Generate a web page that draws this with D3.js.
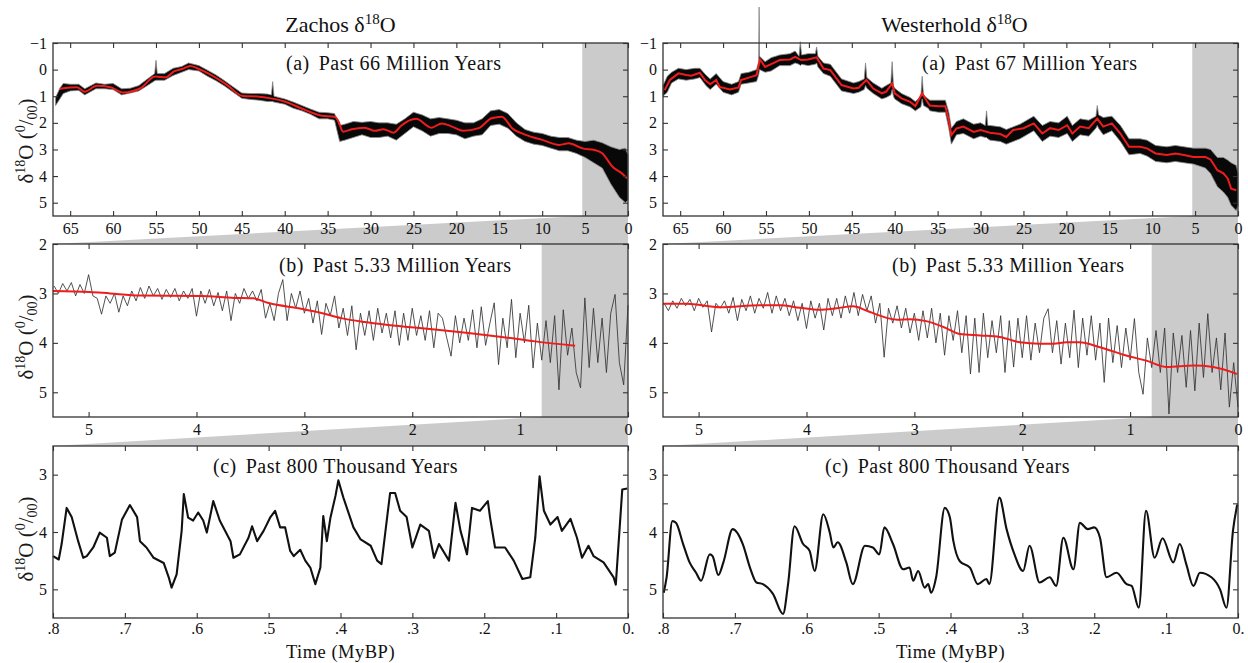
<!DOCTYPE html>
<html>
<head>
<meta charset="utf-8">
<script src="https://cdn.jsdelivr.net/npm/d3@7"></script>
<style>
body { margin: 0; background: #fff; }
svg text { font-family: "Liberation Serif", "Times New Roman", serif !important; }
</style>
</head>
<body>
<svg id="chart" width="1248" height="663"></svg>
<script>
// ---- data ----
// (a) panels: smoothed (red) curves, [age Ma, d18O]
var zachosRedA = [[66.2,0.72],[65.8,0.7],[64.2,0.66],[63.3,0.83],[61.9,0.61],[60.3,0.66],[58.8,0.86],[56.8,0.7],[55.1,0.26],[53.9,0.29],[52.9,0.07],[51.9,-0.03],[51.0,-0.14],[50.2,-0.05],[48.6,0.2],[46.7,0.58],[44.9,0.99],[43.2,1.01],[41.6,1.08],[40.0,1.2],[38.1,1.45],[35.7,1.73],[34.2,1.77],[33.8,1.9],[33.2,2.33],[32.2,2.24],[30.7,2.18],[29.5,2.3],[28.5,2.24],[27.3,2.37],[26.4,2.1],[24.7,1.85],[22.9,2.18],[21.7,2.02],[20.5,2.14],[19.2,2.3],[17.4,2.2],[15.9,1.83],[14.7,1.77],[13.5,2.2],[11.9,2.45],[10.0,2.64],[8.0,2.83],[6.9,2.77],[5.3,2.96],[3.9,3.02],[3.0,3.14],[1.8,3.65],[0.7,3.9],[0.1,4.08]];

var westerholdRedA = [[66.8,0.77],[66.2,0.39],[65.2,0.14],[64.3,0.2],[63.7,0.23],[62.7,0.12],[62.1,0.39],[61.5,0.55],[60.8,0.39],[60.4,0.65],[59.2,0.75],[58.2,0.67],[57.9,0.39],[56.9,0.29],[56.1,0.21],[55.7,-0.38],[55.1,-0.1],[54.4,-0.21],[53.4,-0.36],[52.2,-0.38],[51.6,-0.48],[50.9,-0.36],[50.1,-0.38],[49.1,-0.46],[48.3,-0.04],[47.5,0.02],[46.2,0.58],[44.8,0.71],[44.2,0.68],[43.3,0.39],[42.5,0.71],[41.5,0.89],[41.0,0.83],[40.3,0.52],[40.0,0.89],[39.2,1.08],[38.2,1.21],[37.6,1.37],[36.8,0.89],[36.1,1.26],[35.9,1.35],[34.9,1.38],[34.1,1.38],[33.7,1.9],[33.4,2.46],[32.8,2.21],[32.0,2.14],[30.8,2.34],[30.0,2.27],[28.9,2.37],[27.7,2.42],[27.0,2.53],[26.2,2.27],[25.0,2.2],[23.8,2.02],[22.8,2.4],[21.9,2.2],[20.9,2.27],[19.9,2.09],[19.3,2.4],[18.4,2.14],[17.4,2.2],[16.4,1.84],[15.7,2.14],[14.7,2.02],[13.7,2.4],[12.7,2.9],[11.4,2.9],[10.6,2.96],[9.6,3.15],[8.3,3.21],[7.3,3.15],[6.3,3.21],[5.2,3.28],[3.8,3.28],[3.2,3.38],[2.4,3.78],[1.7,3.9],[1.2,4.09],[0.8,4.47],[0.2,4.53]];

// (a) panels: spread of the raw record, [age Ma, min d18O, max d18O]
var zachosBandA = [[66.7,1.05,1.35],[66.2,0.7,1.1],[65.8,0.52,0.9],[65,0.55,0.8],[64,0.55,0.78],[63.3,0.72,0.95],[62,0.5,0.72],[61,0.55,0.72],[60,0.52,0.75],[59,0.72,0.95],[58,0.7,0.88],[57,0.6,0.8],[56,0.35,0.6],[55.15,0.15,0.42],[55.0,-0.35,0.4],[54.85,0.15,0.4],[54,0.15,0.4],[53,-0.05,0.22],[52,-0.12,0.1],[51.2,-0.25,0.0],[50,-0.15,0.05],[49,0.02,0.25],[48,0.2,0.42],[47,0.42,0.62],[46,0.65,0.85],[45,0.88,1.08],[44,0.9,1.12],[43,0.9,1.15],[42,0.92,1.2],[41.55,0.95,1.2],[41.4,0.45,1.2],[41.25,1.0,1.22],[40,1.1,1.3],[39,1.22,1.45],[38,1.35,1.55],[37,1.48,1.68],[36,1.6,1.85],[35,1.62,1.85],[34.2,1.65,1.9],[33.6,2.1,2.7],[33,2.05,2.65],[32,1.95,2.55],[31,1.98,2.45],[30,1.95,2.55],[29,2.0,2.55],[28,2.0,2.5],[27,2.05,2.65],[26,1.85,2.4],[25,1.6,2.15],[24,1.7,2.3],[23,1.85,2.5],[22,1.8,2.4],[21,1.85,2.4],[20,1.9,2.45],[19,2.0,2.6],[18,2.0,2.5],[17,1.85,2.45],[16,1.55,2.1],[15,1.5,2.05],[14,1.65,2.2],[13,2.0,2.5],[12,2.25,2.7],[11,2.35,2.8],[10,2.4,2.85],[9,2.5,2.95],[8,2.55,3.05],[7,2.55,3.05],[6,2.65,3.15],[5,2.7,3.3],[4,2.65,3.5],[3,2.75,3.7],[2,2.9,4.3],[1,3.0,4.8],[0.3,2.95,5.0],[0,3.2,4.9]];

var westerholdBandA = [[67,0.6,1.0],[66.5,0.25,0.85],[66,0.1,0.5],[65.2,-0.05,0.35],[64.3,0.0,0.4],[63.3,-0.05,0.35],[62.7,-0.05,0.3],[62,0.2,0.6],[61.5,0.35,0.75],[60.8,0.15,0.55],[60,0.45,0.85],[59,0.55,0.95],[58.2,0.45,0.85],[57.9,0.15,0.55],[57,0.1,0.5],[56.1,0.0,0.45],[55.85,-0.3,0.2],[55.8,-2.35,0.1],[55.75,-0.5,0.0],[55.1,-0.3,0.1],[54.4,-0.45,0.05],[53.4,-0.55,-0.15],[52.2,-0.6,-0.15],[51.6,-0.7,-0.25],[51.15,-0.5,-0.2],[51.0,-1.05,-0.15],[50.85,-0.55,-0.2],[50.1,-0.6,-0.15],[49.25,-0.6,-0.2],[49.1,-0.85,-0.25],[48.95,-0.5,-0.1],[48.3,-0.25,0.15],[47.5,-0.2,0.25],[46.2,0.35,0.8],[44.8,0.5,0.9],[44.2,0.45,0.85],[43.55,0.35,0.75],[43.4,-0.25,0.6],[43.25,0.3,0.7],[42.5,0.5,0.9],[41.5,0.7,1.1],[41.0,0.6,1.05],[40.45,0.5,0.95],[40.3,-0.3,0.75],[40.15,0.6,1.0],[40.0,0.7,1.1],[39.2,0.9,1.28],[38.2,1.05,1.4],[37.6,1.2,1.55],[36.95,1.0,1.4],[36.8,0.25,1.1],[36.65,0.95,1.35],[36.1,1.1,1.45],[35.9,1.15,1.55],[34.9,1.15,1.6],[34.1,1.15,1.6],[33.7,1.6,2.2],[33.4,2.2,2.8],[32.8,1.95,2.45],[32.0,1.85,2.4],[30.8,2.05,2.6],[30.0,2.0,2.5],[29.45,2.1,2.55],[29.3,1.55,2.55],[29.15,2.1,2.6],[28.9,2.1,2.65],[27.7,2.15,2.7],[27.0,2.25,2.8],[25.4,2.05,2.6],[23.8,1.75,2.3],[22.8,2.1,2.7],[21.9,1.95,2.5],[20.9,2.0,2.55],[19.9,1.75,2.4],[19.3,2.1,2.7],[18.4,1.85,2.45],[17.4,1.9,2.5],[16.55,1.75,2.2],[16.4,1.35,2.1],[16.25,1.7,2.2],[15.7,1.8,2.45],[14.7,1.75,2.3],[13.7,2.1,2.7],[12.7,2.6,3.2],[11.4,2.6,3.15],[10.6,2.65,3.25],[9.6,2.85,3.45],[8.3,2.9,3.5],[7.3,2.85,3.45],[6.3,2.9,3.5],[5.2,2.95,3.55],[3.8,2.95,3.7],[3.2,3.0,3.9],[2.4,3.3,4.4],[1.7,3.3,4.6],[1.2,3.4,4.8],[0.8,3.5,5.1],[0.2,3.6,5.3],[0,3.9,5.1]];

// (b) panels: raw record sampled every 0.04 Ma from 5.32 Ma to 0
var stepB = 0.04;
var zachosB = [
  2.85,3.0,2.8,2.95,2.78,3.05,2.82,3.0,2.62,3.05,
  3.1,3.42,3.05,3.2,3.0,3.38,3.05,3.25,2.95,3.15,
  2.88,3.1,2.85,3.05,2.9,3.12,2.92,3.08,2.9,3.15,
  2.95,3.1,2.9,3.46,2.95,3.2,2.92,3.25,2.98,3.35,
  2.95,3.55,3.0,3.2,2.9,3.1,2.95,3.15,2.92,3.5,
  3.2,3.55,3.0,2.72,3.55,3.0,3.3,2.95,3.4,3.1,
  3.6,3.15,3.83,3.2,3.45,3.05,3.7,3.3,3.85,3.25,
  4.14,3.4,3.85,3.35,3.95,3.3,3.8,3.4,3.9,3.35,
  4.05,3.4,3.95,3.3,3.85,3.45,3.95,3.35,4.1,3.4,
  3.5,3.9,4.27,3.45,4.0,3.5,3.95,3.33,4.1,3.27,
  4.05,3.6,3.19,4.44,3.5,4.1,3.12,4.3,3.4,4.0,
  3.24,4.51,3.6,4.35,3.55,4.4,3.45,4.95,3.33,4.25,
  3.7,4.6,4.91,3.09,4.5,3.3,4.4,3.5,4.6,3.4,
  3.02,4.4,4.85,3.24];
var westerholdB = [
  3.2,3.35,3.15,3.3,3.1,3.25,3.12,3.35,3.1,3.28,
  3.15,3.78,3.2,3.3,3.15,3.4,3.08,3.55,3.12,3.35,
  3.05,3.4,3.1,3.3,2.98,3.4,3.05,3.35,3.1,3.45,
  3.15,3.55,3.2,3.71,3.15,3.5,3.2,3.74,3.1,3.45,
  3.1,3.5,3.05,3.4,2.98,3.45,3.02,3.35,3.05,3.6,
  3.2,4.29,3.3,3.6,3.25,3.7,3.3,3.8,3.4,3.95,
  3.35,3.9,3.3,4.0,3.4,4.25,3.45,3.95,3.35,4.2,
  3.45,4.63,3.5,4.6,3.4,4.3,3.55,4.2,3.45,4.6,
  3.55,4.49,3.5,4.3,3.45,4.35,3.6,4.2,3.5,3.31,
  4.2,3.55,4.43,3.6,4.3,3.34,4.5,3.5,4.25,3.45,
  4.35,3.6,4.8,3.5,4.4,3.65,4.5,3.7,4.35,3.51,
  4.6,5.04,3.9,4.5,3.75,4.6,3.7,5.44,3.8,4.6,
  3.85,4.9,3.75,4.97,3.6,4.7,3.41,4.6,3.9,4.95,
  3.8,5.3,4.4,5.3];

// (b) panels: smoothed curves
var zachosRedB = [[5.33,2.95],[4.99,2.97],[4.8,3.0],[4.52,3.04],[3.96,3.05],[3.65,3.09],[3.47,3.1],[3.34,3.19],[3.03,3.31],[2.85,3.39],[2.66,3.5],[2.44,3.58],[2.26,3.63],[1.98,3.69],[1.79,3.73],[1.48,3.8],[1.17,3.88],[0.86,3.97],[0.49,4.06]];
var westerholdRedB = [[5.33,3.21],[5.11,3.21],[4.8,3.28],[4.43,3.24],[4.25,3.24],[4.06,3.29],[3.88,3.33],[3.72,3.3],[3.57,3.26],[3.44,3.35],[3.32,3.45],[3.16,3.53],[3.04,3.52],[2.89,3.56],[2.73,3.68],[2.58,3.82],[2.39,3.85],[2.21,3.88],[2.02,3.99],[1.84,4.02],[1.71,4.02],[1.59,3.99],[1.47,3.99],[1.28,4.09],[1.03,4.26],[0.85,4.36],[0.66,4.49],[0.41,4.46],[0.23,4.49],[0.01,4.63]];

// (c) panels: last 800 kyr, [age Ma, d18O]
var zachosC = [[0.8,4.42],[0.792,4.48],[0.788,4.21],[0.781,3.58],[0.774,3.74],[0.765,4.16],[0.758,4.45],[0.753,4.42],[0.744,4.27],[0.735,4.01],[0.725,4.1],[0.721,4.42],[0.714,4.36],[0.704,3.78],[0.693,3.53],[0.683,3.74],[0.679,4.16],[0.67,4.27],[0.66,4.45],[0.646,4.54],[0.639,4.79],[0.635,4.97],[0.628,4.74],[0.621,3.98],[0.618,3.34],[0.612,3.75],[0.605,3.8],[0.598,3.66],[0.591,3.8],[0.586,4.01],[0.577,3.46],[0.568,3.8],[0.553,4.16],[0.549,4.45],[0.54,4.39],[0.528,4.1],[0.523,3.9],[0.516,4.16],[0.507,3.98],[0.498,3.75],[0.491,3.63],[0.484,3.92],[0.477,3.92],[0.47,4.33],[0.465,4.42],[0.456,4.31],[0.449,4.5],[0.442,4.62],[0.435,4.91],[0.428,4.62],[0.424,3.72],[0.419,4.16],[0.414,3.75],[0.407,3.37],[0.403,3.1],[0.396,3.4],[0.382,3.92],[0.372,4.13],[0.358,4.24],[0.349,4.5],[0.343,4.56],[0.338,4.04],[0.331,3.32],[0.324,3.32],[0.317,3.63],[0.308,3.74],[0.3,4.27],[0.289,3.87],[0.277,3.98],[0.27,4.45],[0.263,4.21],[0.249,4.5],[0.24,3.49],[0.233,3.98],[0.224,4.39],[0.217,3.58],[0.206,3.63],[0.195,3.46],[0.192,3.74],[0.185,4.27],[0.171,4.27],[0.159,4.5],[0.147,4.82],[0.136,4.79],[0.129,4.1],[0.123,3.03],[0.117,3.63],[0.108,3.87],[0.098,3.74],[0.092,3.98],[0.08,3.77],[0.071,4.1],[0.064,4.45],[0.055,4.24],[0.048,4.42],[0.034,4.53],[0.02,4.79],[0.017,4.92],[0.008,3.26],[0.001,3.24]];
var westerholdC = [[0.799,5.06],[0.795,4.79],[0.787,3.81],[0.782,3.84],[0.772,4.21],[0.763,4.53],[0.754,4.71],[0.747,4.85],[0.735,4.39],[0.731,4.42],[0.723,4.75],[0.716,4.53],[0.703,3.95],[0.689,4.21],[0.679,4.62],[0.67,4.88],[0.661,4.91],[0.647,5.08],[0.633,5.43],[0.626,4.91],[0.617,3.9],[0.605,4.21],[0.596,4.33],[0.589,4.68],[0.577,3.69],[0.568,4.01],[0.563,4.27],[0.557,4.18],[0.545,4.53],[0.536,4.91],[0.519,4.24],[0.508,4.27],[0.499,4.39],[0.492,3.92],[0.48,4.21],[0.466,4.65],[0.457,4.62],[0.452,4.85],[0.445,4.68],[0.436,4.97],[0.431,4.91],[0.427,5.06],[0.42,4.79],[0.408,3.58],[0.401,3.74],[0.396,4.16],[0.387,4.51],[0.373,4.62],[0.362,4.91],[0.35,4.82],[0.346,4.91],[0.332,3.4],[0.322,3.95],[0.311,4.39],[0.299,4.68],[0.29,4.24],[0.276,4.88],[0.262,4.79],[0.253,4.94],[0.243,4.1],[0.229,4.65],[0.22,3.84],[0.209,3.95],[0.2,3.92],[0.192,4.1],[0.183,4.79],[0.169,4.71],[0.155,4.91],[0.148,4.94],[0.138,5.32],[0.128,3.63],[0.116,4.45],[0.105,4.11],[0.09,4.53],[0.081,4.21],[0.072,4.56],[0.062,4.94],[0.053,4.71],[0.037,4.79],[0.025,5.0],[0.016,5.32],[0.007,3.98],[0.001,3.52]];

// axis ticks
var ticksA = [65,60,55,50,45,40,35,30,25,20,15,10,5,0];
var ticksAy = [-1,0,1,2,3,4,5];
var ticksB = [5,4,3,2,1,0];
var ticksBy = [2,3,4,5];
var ticksC = [0.8,0.7,0.6,0.5,0.4,0.3,0.2,0.1,0];
var ticksCy = [3,4,5];
var ticksCyMinor = [3.5,4.5];

// ---- drawing ----
var svg = d3.select("#chart");
var shade = "#cbcbcb";
var red = "#ee1c1c";

var rowA = {y0: 43, y1: 216}, rowB = {y0: 244, y1: 417}, rowC = {y0: 446, y1: 618};

var columns = [
  {x0: 53, x1: 628, title: "Zachos δ", bandA: zachosBandA, redA: zachosRedA, smoothA: true, lineB: zachosB, redB: zachosRedB,
   lineC: zachosC, curveC: d3.curveLinear, sub: [[286, "Past 66 Million Years"], [279, "Past 5.33 Million Years"], [213, "Past 800 Thousand Years"]],
   minorC: false, yLabel: true},
  {x0: 663, x1: 1238, title: "Westerhold δ", bandA: westerholdBandA, redA: westerholdRedA, smoothA: false, lineB: westerholdB, redB: westerholdRedB,
   lineC: westerholdC, curveC: d3.curveMonotoneX, sub: [[922, "Past 67 Million Years"], [892, "Past 5.33 Million Years"], [825, "Past 800 Thousand Years"]],
   minorC: true, yLabel: false}
];

function fmtC(d) { return d === 0 ? "0." : d3.format(".1f")(d).replace(/^0/, ""); }

function addAxes(x, y, row, col, xTicks, yTicks, xFmt, yMinor, pad) {
  var g = svg.append("g");
  g.append("g").attr("transform", "translate(0," + row.y1 + ")")
    .call(d3.axisBottom(x).tickValues(xTicks).tickSize(-5).tickPadding(pad).tickFormat(xFmt));
  g.append("g").attr("transform", "translate(0," + row.y0 + ")")
    .call(d3.axisTop(x).tickValues(xTicks).tickSize(-5).tickFormat(""));
  g.append("g").attr("transform", "translate(" + col.x0 + ",0)")
    .call(d3.axisLeft(y).tickValues(yTicks).tickSize(-5).tickPadding(6).tickFormat(d3.format("d")));
  g.append("g").attr("transform", "translate(" + col.x1 + ",0)")
    .call(d3.axisRight(y).tickValues(yTicks).tickSize(-5).tickFormat(""));
  if (yMinor) {
    g.append("g").attr("transform", "translate(" + col.x0 + ",0)")
      .call(d3.axisLeft(y).tickValues(yMinor).tickSize(-5).tickFormat(""));
    g.append("g").attr("transform", "translate(" + col.x1 + ",0)")
      .call(d3.axisRight(y).tickValues(yMinor).tickSize(-5).tickFormat(""));
  }
  g.selectAll(".domain").remove();
  g.selectAll(".tick line").attr("stroke", "#333").attr("stroke-width", 1.1);
  g.selectAll(".tick text").attr("font-size", 16).attr("fill", "#111");
  g.append("rect")
    .attr("x", col.x0).attr("y", row.y0)
    .attr("width", col.x1 - col.x0).attr("height", row.y1 - row.y0)
    .attr("fill", "none").attr("stroke", "#333").attr("stroke-width", 1.3);
}

function addShade(x, row, nextRow, col, from) {
  svg.append("polygon")
    .attr("points", [[x(from), row.y1], [col.x1, row.y1], [col.x1, nextRow.y0], [col.x0, nextRow.y0]].join(" "))
    .attr("fill", shade);
  svg.append("rect")
    .attr("x", x(from)).attr("y", row.y0)
    .attr("width", col.x1 - x(from)).attr("height", row.y1 - row.y0)
    .attr("fill", shade);
}

function addYLabel(cy) {
  var t = svg.append("text")
    .attr("transform", "translate(33," + cy + ") rotate(-90)")
    .attr("text-anchor", "middle")
    .attr("font-size", 21).attr("fill", "#1a1a1a");
  t.append("tspan").text("δ");
  t.append("tspan").attr("font-size", 14).attr("dy", -8).text("18");
  t.append("tspan").attr("dy", 8).text("O (");
  t.append("tspan").attr("font-size", 14).attr("dy", -8).text("0");
  t.append("tspan").attr("dy", 8).text("/");
  t.append("tspan").attr("font-size", 14).attr("dy", 4).text("00");
  t.append("tspan").attr("dy", -4).text(")");
}

function addSub(x, y, tag, label) {
  var t = svg.append("text").attr("x", x).attr("y", y)
    .attr("font-size", 20).attr("letter-spacing", 0.5).attr("fill", "#111");
  t.append("tspan").text(tag);
  t.append("tspan").attr("dx", 9).text(label);
}

columns.forEach(function(col) {
  var xA = d3.scaleLinear().domain([67, 0]).range([col.x0, col.x1]);
  var yA = d3.scaleLinear().domain([-1, 5.5]).range([rowA.y0, rowA.y1]);
  var xB = d3.scaleLinear().domain([5.33, 0]).range([col.x0, col.x1]);
  var yB = d3.scaleLinear().domain([2, 5.5]).range([rowB.y0, rowB.y1]);
  var xC = d3.scaleLinear().domain([0.8, 0]).range([col.x0, col.x1]);
  var yC = d3.scaleLinear().domain([2.5, 5.5]).range([rowC.y0, rowC.y1]);

  addShade(xA, rowA, rowB, col, 5.33);
  addShade(xB, rowB, rowC, col, 0.8);

  // (a) raw spread + smoothed curve
  svg.append("path").datum(col.bandA)
    .attr("d", d3.area().x(function(d) { return xA(d[0]); })
      .y0(function(d) { return yA(d[1]); }).y1(function(d) { return yA(d[2]); }))
    .attr("fill", "#080808").attr("stroke", "#8a8a8a").attr("stroke-width", 1).attr("stroke-opacity", 0.8);
  svg.append("path").datum(col.redA)
    .attr("d", d3.line().x(function(d) { return xA(d[0]); }).y(function(d) { return yA(d[1]); })
      .curve(col.smoothA ? d3.curveMonotoneX : d3.curveLinear))
    .attr("fill", "none").attr("stroke", red).attr("stroke-width", 2);

  // (b)
  svg.append("path").datum(col.lineB)
    .attr("d", d3.line().x(function(d, i) { return xB(5.32 - stepB * i); }).y(function(d) { return yB(d); }))
    .attr("fill", "none").attr("stroke", "#333").attr("stroke-width", 0.85);
  svg.append("path").datum(col.redB)
    .attr("d", d3.line().x(function(d) { return xB(d[0]); }).y(function(d) { return yB(d[1]); }).curve(d3.curveMonotoneX))
    .attr("fill", "none").attr("stroke", red).attr("stroke-width", 2);

  // (c)
  svg.append("path").datum(col.lineC)
    .attr("d", d3.line().x(function(d) { return xC(d[0]); }).y(function(d) { return yC(d[1]); }).curve(col.curveC))
    .attr("fill", "none").attr("stroke", "#111").attr("stroke-width", 2.1).attr("stroke-linejoin", "round");

  addAxes(xA, yA, rowA, col, ticksA, ticksAy, d3.format("d"), null, 7);
  addAxes(xB, yB, rowB, col, ticksB, ticksBy, d3.format("d"), null, 7);
  addAxes(xC, yC, rowC, col, ticksC, ticksCy, fmtC, col.minorC ? ticksCyMinor : null, 5);

  var cx = (col.x0 + col.x1) / 2;
  var title = svg.append("text").attr("x", cx + (col.yLabel ? 0 : 4)).attr("y", 32)
    .attr("text-anchor", "middle").attr("font-size", 22).attr("fill", "#111");
  title.append("tspan").text(col.title);
  title.append("tspan").attr("font-size", 15).attr("dy", -8).text("18");
  title.append("tspan").attr("dy", 8).text("O");

  addSub(col.sub[0][0], 70, "(a)", col.sub[0][1]);
  addSub(col.sub[1][0], 272, "(b)", col.sub[1][1]);
  addSub(col.sub[2][0], 473, "(c)", col.sub[2][1]);

  svg.append("text").attr("x", cx).attr("y", 658)
    .attr("text-anchor", "middle").attr("font-size", 18.5).attr("letter-spacing", 0.5).attr("fill", "#111")
    .text("Time (MyBP)");

  if (col.yLabel) {
    addYLabel(141);
    addYLabel(337);
    addYLabel(539);
  }
});
</script>
</body>
</html>
